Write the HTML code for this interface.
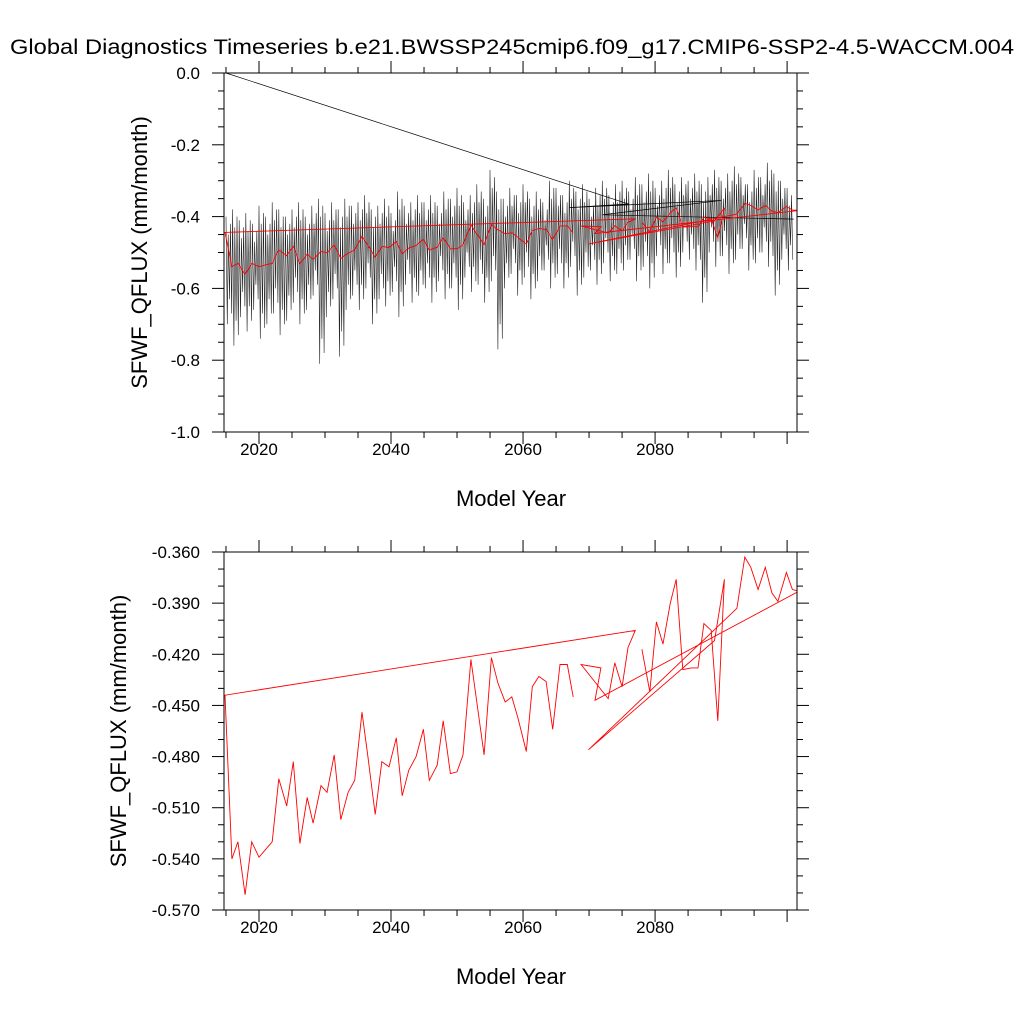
<!DOCTYPE html>
<html><head><meta charset="utf-8"><style>
html,body{margin:0;padding:0;background:#fff;}
svg text{font-family:"Liberation Sans",sans-serif;fill:#000;}
</style></head><body>
<svg id="chart" width="1024" height="1024" viewBox="0 0 1024 1024" xmlns="http://www.w3.org/2000/svg">
<rect width="1024" height="1024" fill="#fff"/>
<text x="512" y="54" font-size="21.5" text-anchor="middle" textLength="1004" lengthAdjust="spacingAndGlyphs">Global Diagnostics Timeseries b.e21.BWSSP245cmip6.f09_g17.CMIP6-SSP2-4.5-WACCM.004</text>
<g id="top"></g>
<g id="bot"></g>
</svg>
<script>
// Annual mean series (red), in drawing order
const redYears = [2067.6,2066.7,2065.6,2064.5,2063.5,2062.4,2061.4,2060.5,2059.2,2058.3,2057.3,2056.2,2055.2,2054.1,2053.0,2052.1,2050.9,2050.0,2049.0,2047.9,2047.0,2045.8,2044.9,2043.8,2042.7,2041.7,2040.8,2039.7,2038.6,2037.6,2036.5,2035.6,2034.5,2033.5,2032.4,2031.4,2030.3,2029.4,2028.2,2027.3,2026.2,2025.2,2024.2,2023.0,2022.0,2020.0,2018.9,2017.9,2016.8,2015.9,2014.85,2077.0,2075.9,2075.0,2073.9,2072.9,2068.8,2071.8,2070.9,2101.8,2100.8,2099.9,2098.6,2097.7,2096.7,2095.6,2094.5,2093.6,2092.4,2069.9,2089.0,2090.5,2089.5,2088.5,2087.4,2086.5,2085.5,2084.2,2083.2,2082.3,2081.2,2080.2,2079.2,2078.0];
const redValues = [-0.445,-0.426,-0.426,-0.464,-0.436,-0.433,-0.439,-0.477,-0.457,-0.445,-0.448,-0.437,-0.422,-0.479,-0.448,-0.423,-0.479,-0.489,-0.490,-0.459,-0.485,-0.494,-0.464,-0.480,-0.488,-0.503,-0.469,-0.486,-0.483,-0.514,-0.480,-0.454,-0.494,-0.501,-0.517,-0.479,-0.501,-0.497,-0.519,-0.504,-0.531,-0.483,-0.509,-0.493,-0.530,-0.539,-0.530,-0.561,-0.530,-0.540,-0.444,-0.406,-0.416,-0.439,-0.425,-0.446,-0.426,-0.428,-0.447,-0.383,-0.382,-0.372,-0.389,-0.384,-0.369,-0.382,-0.369,-0.363,-0.393,-0.476,-0.412,-0.376,-0.459,-0.406,-0.402,-0.428,-0.428,-0.429,-0.376,-0.390,-0.414,-0.401,-0.442,-0.417];
// Monthly series (black): yearly peak highs and lows, 2015..2100
const blackYears0 = 2015;
const blackHigh = [-0.40,-0.38,-0.41,-0.39,-0.42,-0.37,-0.40,-0.36,-0.38,-0.40,
 -0.38,-0.36,-0.40,-0.37,-0.35,-0.39,-0.36,-0.38,-0.35,-0.37,
 -0.36,-0.34,-0.38,-0.37,-0.35,-0.39,-0.33,-0.37,-0.36,-0.34,
 -0.36,-0.34,-0.37,-0.33,-0.35,-0.32,-0.36,-0.34,-0.31,-0.35,
 -0.27,-0.33,-0.35,-0.32,-0.34,-0.31,-0.35,-0.33,-0.36,-0.30,
 -0.32,-0.34,-0.30,-0.33,-0.31,-0.35,-0.32,-0.30,-0.34,-0.31,
 -0.30,-0.33,-0.29,-0.31,-0.28,-0.32,-0.30,-0.27,-0.31,-0.29,
 -0.30,-0.28,-0.31,-0.29,-0.27,-0.30,-0.28,-0.26,-0.29,-0.31,-0.27,-0.29,-0.25,-0.28,-0.30,-0.32];
const blackLow = [-0.70,-0.76,-0.68,-0.72,-0.66,-0.74,-0.70,-0.67,-0.73,-0.69,
 -0.64,-0.70,-0.66,-0.62,-0.81,-0.68,-0.63,-0.79,-0.66,-0.62,
 -0.66,-0.60,-0.70,-0.63,-0.65,-0.61,-0.68,-0.59,-0.64,-0.62,
 -0.60,-0.64,-0.58,-0.63,-0.60,-0.66,-0.57,-0.61,-0.59,-0.64,
 -0.58,-0.77,-0.60,-0.56,-0.62,-0.57,-0.63,-0.58,-0.55,-0.60,
 -0.56,-0.60,-0.54,-0.62,-0.57,-0.55,-0.59,-0.53,-0.58,-0.56,
 -0.55,-0.52,-0.58,-0.54,-0.60,-0.51,-0.56,-0.53,-0.57,-0.50,
 -0.52,-0.55,-0.64,-0.50,-0.54,-0.51,-0.56,-0.52,-0.49,-0.55,-0.53,-0.50,-0.54,-0.62,-0.52,-0.55];
// Black connector segments (out-of-order records)
const blackJumpYears = [2015,2076,2067,2090,2072,2101];
const blackJumpValues = [0.0,-0.365,-0.375,-0.355,-0.395,-0.407];
const xTicks = [2020,2040,2060,2080];
const topYTicks = ["0.0","-0.2","-0.4","-0.6","-0.8","-1.0"];
const botYTicks = ["-0.360","-0.390","-0.420","-0.450","-0.480","-0.510","-0.540","-0.570"];

const NS="http://www.w3.org/2000/svg";
function mk(parent,tag,attrs){const e=document.createElementNS(NS,tag);for(const k in attrs)e.setAttribute(k,attrs[k]);parent.appendChild(e);return e;}
const X0=224,X1=797,XMIN=2014.7,XMAX=2101.5;
function xs(y){return X0+(y-XMIN)/(XMAX-XMIN)*(X1-X0);}

function panel(g,top,bot,ymin,ymax,yLabels,yMinorStep,prefix){
  const ys=v=>bot-(v-ymin)/(ymax-ymin)*(bot-top);
  const clip=mk(g,'clipPath',{id:prefix+'clip'});mk(clip,'rect',{x:X0,y:top,width:X1-X0,height:bot-top});
  const tk=mk(g,'g',{stroke:'#000','stroke-width':1});
  
  
  for(let yr=2015;yr<=2100;yr+=5){const x=xs(yr);const L=(yr%20==0)?12:6;
    mk(tk,'line',{x1:x,y1:bot,x2:x,y2:bot+L});mk(tk,'line',{x1:x,y1:top,x2:x,y2:top-L});}
  const n=Math.round((ymax-ymin)/yMinorStep);
  const majEvery=Math.round((ymax-ymin)/(yLabels.length-1)/yMinorStep);
  for(let i=0;i<=n;i++){const y=ys(ymin+i*yMinorStep);const L=(i%majEvery==0)?12:6;
    mk(tk,'line',{x1:X0,y1:y,x2:X0-L,y2:y});mk(tk,'line',{x1:X1,y1:y,x2:X1+L,y2:y});}
  xTicks.forEach(t=>{const e=mk(g,'text',{x:xs(t),y:bot+23,'font-size':17,'text-anchor':'middle'});e.textContent=t;
    
    });
  yLabels.forEach((t,i)=>{const e=mk(g,'text',{x:X0-24,y:ys(ymax-i*(ymax-ymin)/(yLabels.length-1))+6,'font-size':17,'text-anchor':'end'});e.textContent=t;
    
    });
  const xt=mk(g,'text',{x:511,y:bot+74,'font-size':22,'text-anchor':'middle'});xt.textContent='Model Year';
  
  
  const yt=mk(g,'text',{x:0,y:0,'font-size':22,'text-anchor':'middle',transform:`translate(${prefix=='top'?147:126},${(top+bot)/2}) rotate(-90)`});yt.textContent='SFWF_QFLUX (mm/month)';
  
  
  return {ys,clipId:prefix+'clip'};
}

// Top panel
const gt=document.getElementById('top');
const T=panel(gt,73,432,-1.0,0.0,topYTicks,0.05,'top');
const cg=mk(gt,'g',{'clip-path':'url(#topclip)'});
let d='';
for(let i=0;i<blackHigh.length;i++){
  const y0=blackYears0+i;
  for(let k=0;k<6;k++){
    const yr=y0+k/6+(k%2?0.03:0);const hi=blackHigh[i],lo=blackLow[i];
    const v=(k%2==0)?hi+(k==2?-0.05:0)+(k==4?-0.02:0):lo+(k==3?0.07:0)+(k==5?0.03:0);
    d+=(d?'L':'M')+xs(yr).toFixed(1)+','+T.ys(v).toFixed(1);
  }
}
const bl=mk(cg,'path',{d:d,fill:'none',stroke:'#222','stroke-width':0.6});


let dj='';blackJumpYears.forEach((y,i)=>{dj+=(i?'L':'M')+xs(y)+','+T.ys(blackJumpValues[i]);});
const bj=mk(cg,'path',{d:dj,fill:'none',stroke:'#000','stroke-width':0.7});


let dr='';redYears.forEach((y,i)=>{dr+=(i?'L':'M')+xs(y).toFixed(1)+','+T.ys(redValues[i]).toFixed(1);});
const rt=mk(cg,'path',{d:dr,fill:'none',stroke:'#f00','stroke-width':0.9});


const bt=mk(gt,'rect',{x:X0,y:73,width:X1-X0,height:359,fill:'none',stroke:'#000','stroke-width':1});



// Bottom panel
const gb=document.getElementById('bot');
const B=panel(gb,552,910,-0.57,-0.36,botYTicks,0.01,'bot');
const cb=mk(gb,'g',{'clip-path':'url(#botclip)'});
let db='';redYears.forEach((y,i)=>{db+=(i?'L':'M')+xs(y).toFixed(1)+','+B.ys(redValues[i]).toFixed(1);});
const rb=mk(cb,'path',{d:db,fill:'none',stroke:'#f00','stroke-width':0.9});


const bb=mk(gb,'rect',{x:X0,y:552,width:X1-X0,height:358,fill:'none',stroke:'#000','stroke-width':1});


</script>
</body></html>
